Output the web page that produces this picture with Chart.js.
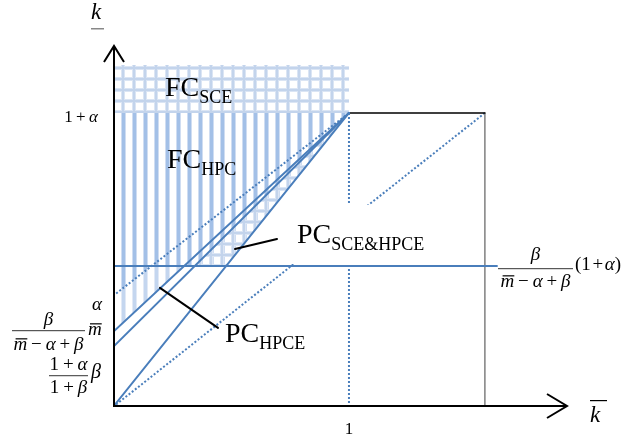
<!DOCTYPE html>
<html>
<head>
<meta charset="utf-8">
<script src="https://cdn.jsdelivr.net/npm/chart.js@4/dist/chart.umd.min.js"></script>
<style>
  html, body { margin: 0; padding: 0; background: #fff; }
  #wrap { width: 625px; height: 439px; }
</style>
</head>
<body>
<div id="wrap"><canvas id="chart" width="625" height="439"></canvas></div>
<script>
'use strict';

// axis extents (k-bar across, k-underbar up)
const xLimits = [0, 1.924];
const yLimits = [0, 2.216];

// straight lines, all meeting at (1, 1+a)
const lineC = [{ x: 0, y: 0 }, { x: 1, y: 1.8 }];
const lineB = [{ x: 0, y: 0.367 }, { x: 1, y: 1.8 }];
const lineA = [{ x: 0, y: 0.459 }, { x: 1, y: 1.8 }];
const dotUpper = [{ x: 0, y: 0.68 }, { x: 1, y: 1.8 }];
const dotLower = [{ x: 0, y: 0 }, { x: 1.576, y: 1.8 }];
const dotVertical = [{ x: 1, y: 0 }, { x: 1, y: 1.8 }];
const levelLine = [{ x: 0, y: 0.863 }, { x: 1.627, y: 0.863 }];
const boxTop = [{ x: 1, y: 1.8 }, { x: 1.576, y: 1.8 }];
const boxSide = [{ x: 1.576, y: 0 }, { x: 1.576, y: 1.8 }];

// shaded regions
const sceUpper = [{ x: 0, y: 2.094 }, { x: 1, y: 2.094 }];
const hpcUpper = [{ x: 0, y: 1.8 }, { x: 1, y: 1.8 }];
const hpcLower = [{ x: 0, y: 0.68 }, { x: 0.163, y: 0.863 }, { x: 0.479, y: 0.863 }, { x: 1, y: 1.8 }];
const paleUpper = [{ x: 0, y: 0.68 }, { x: 0.163, y: 0.863 }, { x: 0.301, y: 0.863 }];
const paleLower = [{ x: 0, y: 0.459 }, { x: 0.301, y: 0.863 }];
const bothUpper = [{ x: 0.346, y: 0.863 }, { x: 1, y: 1.8 }];
const bothLower = [{ x: 0.346, y: 0.863 }, { x: 0.479, y: 0.863 }, { x: 1, y: 1.8 }];

// leader lines for the PC labels
const leaderBoth = [{ x: 0.517, y: 0.967 }, { x: 0.695, y: 1.029 }];
const leaderHpce = [{ x: 0.199, y: 0.729 }, { x: 0.445, y: 0.484 }];

const BLUE = '#4a7ebb';
const SERIF = '"Liberation Serif", "DejaVu Serif", serif';

function stripes(dark, light) {
  const c = document.createElement('canvas');
  c.width = 11; c.height = 4;
  const g = c.getContext('2d');
  g.fillStyle = light; g.fillRect(0, 0, 5, 4);
  g.fillStyle = dark; g.fillRect(1, 0, 3, 4);
  return g.createPattern(c, 'repeat');
}

function grid() {
  const c = document.createElement('canvas');
  c.width = 11; c.height = 11;
  const g = c.getContext('2d');
  g.fillStyle = '#dbe5f4';
  g.fillRect(0, 0, 11, 4); g.fillRect(0, 0, 4, 11);
  g.fillStyle = '#c3d4ec';
  g.fillRect(0, 1, 11, 2); g.fillRect(1, 0, 2, 11);
  return g.createPattern(c, 'repeat');
}

function area(data, fill, bg, order) {
  return { data, fill, backgroundColor: bg, borderWidth: 0, pointRadius: 0, order };
}
function stroke(data, color, width, dash, order) {
  return { data, fill: false, borderColor: color, borderWidth: width, borderDash: dash || [],
    pointRadius: 0, order, borderCapStyle: dash ? 'butt' : 'round' };
}

const datasets = [
  area(sceUpper, { value: 1.8 }, grid(), 20),            // 0
  area(hpcUpper, 2, stripes('#a3c0e7', '#cfddf2'), 19),   // 1
  area(hpcLower, false, 'transparent', 19),               // 2
  area(paleUpper, 4, stripes('#c4d6ef', '#e1e9f6'), 18),  // 3
  area(paleLower, false, 'transparent', 18),              // 4
  area(bothUpper, 6, grid(), 17),                         // 5
  area(bothLower, false, 'transparent', 17),              // 6
  stroke(dotUpper, BLUE, 2, [2, 2], 8),
  stroke(dotLower, BLUE, 2, [2, 2], 8),
  stroke(dotVertical, BLUE, 2, [2, 2], 8),
  stroke(boxTop, '#000', 1.5, null, 7),
  stroke(boxSide, '#7f7f7f', 1.5, null, 7),
  stroke(levelLine, BLUE, 2, null, 5),                    // 12
  stroke(lineA, BLUE, 2, null, 4),
  stroke(lineB, BLUE, 2, null, 4),
  stroke(lineC, BLUE, 2, null, 4),
  stroke(leaderBoth, '#000', 2, null, 2),
  stroke(leaderHpce, '#000', 2, null, 2)
];
const LEVEL_INDEX = 12;

function font(size, italic) {
  return (italic ? 'italic ' : '') + size + 'px ' + SERIF;
}

// draw a row of math runs: [text, italic, overbar]
function runs(ctx, parts, x, y, size, align) {
  const widths = parts.map(p => { ctx.font = font(size, p[1]); return ctx.measureText(p[0]).width; });
  const total = widths.reduce((a, b) => a + b, 0);
  let cx = align === 'center' ? x - total / 2 : align === 'right' ? x - total : x;
  parts.forEach((p, i) => {
    ctx.font = font(size, p[1]);
    ctx.fillText(p[0], cx, y);
    if (p[2]) {
      ctx.fillRect(cx + 2, y - size * 0.62, widths[i] - 2, 1.2);
    }
    cx += widths[i];
  });
  return total;
}

function bar(ctx, x0, x1, y) {
  ctx.fillStyle = '#555';
  ctx.fillRect(x0, y, x1 - x0, 1.2);
  ctx.fillStyle = '#000';
}

function named(ctx, main, sub, x, y) {
  ctx.font = font(28, false);
  ctx.fillText(main, x, y);
  const w = ctx.measureText(main).width;
  ctx.font = font(18, false);
  ctx.fillText(sub, x + w, y + 7);
}

const TH = '\u2009';
const HAIR = '\u200a';
const denom = [['m', true, true], [TH + '\u2212' + TH, false], ['\u03b1', true], [TH + '+' + TH, false], ['\u03b2', true]];

const diagram = {
  id: 'diagram',
  beforeDatasetDraw(chart, args) {
    if (args.index !== LEVEL_INDEX) return;
    // blank patch behind the PC_SCE&HPCE label
    const ctx = chart.ctx;
    ctx.save();
    ctx.fillStyle = '#fff';
    ctx.fillRect(280, 205, 160, 59);
    ctx.restore();
  },
  afterDatasetsDraw(chart) {
    const ctx = chart.ctx;
    const { left, right, top, bottom } = chart.chartArea;
    const xs = chart.scales.x, ys = chart.scales.y;
    ctx.save();

    // axes with open arrow heads
    ctx.strokeStyle = '#000';
    ctx.lineWidth = 2;
    ctx.lineJoin = 'miter';
    ctx.beginPath();
    ctx.moveTo(left + 1, bottom);
    ctx.lineTo(left + 1, top + 1);
    ctx.moveTo(left, bottom - 1);
    ctx.lineTo(right, bottom - 1);
    ctx.stroke();
    ctx.beginPath();
    ctx.moveTo(left - 9, top + 17);
    ctx.lineTo(left + 1, top + 1);
    ctx.lineTo(left + 11, top + 17);
    ctx.moveTo(right - 20, bottom - 13);
    ctx.lineTo(right, bottom - 1);
    ctx.lineTo(right - 20, bottom + 11);
    ctx.stroke();

    ctx.fillStyle = '#000';
    ctx.textBaseline = 'alphabetic';

    // axis names
    ctx.font = font(23, true);
    ctx.fillText('k', 91, 19);
    ctx.fillStyle = '#888';
    ctx.fillRect(91, 28, 13, 1.5);
    ctx.fillStyle = '#000';
    ctx.fillText('k', 590, 422);
    ctx.fillRect(590, 400, 17, 1.2);

    // ticks
    ctx.font = font(17, false);
    ctx.textAlign = 'center';
    ctx.fillText('1', xs.getPixelForValue(1), 434);
    ctx.textAlign = 'left';
    runs(ctx, [['1' + TH + '+' + TH, false], ['\u03b1', true]], left - 15, ys.getPixelForValue(1.8) + 9, 17, 'right');

    // region names
    named(ctx, 'FC', 'SCE', 165, 96);
    named(ctx, 'FC', 'HPC', 167, 168);
    named(ctx, 'PC', 'SCE&HPCE', 297, 243);
    named(ctx, 'PC', 'HPCE', 225, 342);

    // intercept labels on the left
    const yA = ys.getPixelForValue(lineA[0].y);
    runs(ctx, [['\u03b2', true]], 48.5, yA - 7, 19, 'center');
    bar(ctx, 12, 85, yA - 2);
    runs(ctx, denom, 48.5, yA + 18, 19, 'center');
    runs(ctx, [['\u03b1', true]], 92, yA - 22, 19, 'left');
    runs(ctx, [['m', true, true]], 88, yA + 3, 19, 'left');

    const yB = ys.getPixelForValue(lineB[0].y);
    runs(ctx, [['1' + TH + '+' + TH, false], ['\u03b1', true]], 68.5, yB + 23, 19, 'center');
    bar(ctx, 49, 88, yB + 28);
    runs(ctx, [['1' + TH + '+' + TH, false], ['\u03b2', true]], 68.5, yB + 46, 19, 'center');
    runs(ctx, [['\u03b2', true]], 91, yB + 31, 20, 'left');

    // level label on the right
    const yL = ys.getPixelForValue(levelLine[0].y);
    runs(ctx, [['\u03b2', true]], 535.5, yL - 6, 19, 'center');
    bar(ctx, 498, 573, yL + 2);
    runs(ctx, denom, 535.5, yL + 21, 19, 'center');
    runs(ctx, [['(1' + HAIR + '+' + HAIR, false], ['\u03b1', true], [')', false]], 575, yL + 4, 19, 'left');

    ctx.restore();
  }
};

new Chart(document.getElementById('chart'), {
  type: 'line',
  data: { datasets },
  options: {
    responsive: false,
    animation: false,
    layout: { padding: { left: 113, right: 58, top: 45, bottom: 32 } },
    plugins: {
      legend: { display: false },
      tooltip: { enabled: false },
      filler: { propagate: false }
    },
    elements: { line: { tension: 0 } },
    scales: {
      x: { type: 'linear', min: xLimits[0], max: xLimits[1], display: false },
      y: { type: 'linear', min: yLimits[0], max: yLimits[1], display: false }
    }
  },
  plugins: [diagram]
});
</script>
</body>
</html>
